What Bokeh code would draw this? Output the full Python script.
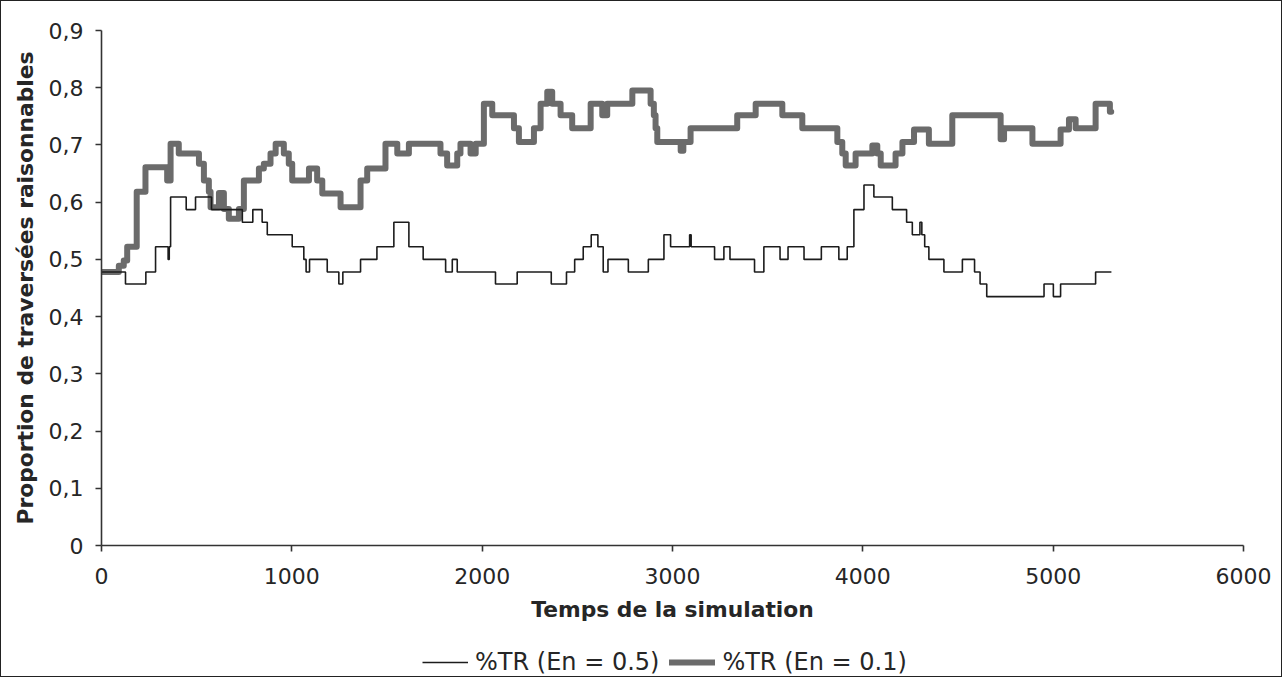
from bokeh.plotting import figure
from bokeh.layouts import column
from bokeh.models import (Range1d, FixedTicker, Legend, LegendItem, ColumnDataSource,
                          CustomJSTickFormatter, BasicTickFormatter)
from bokeh.embed import file_html
from bokeh.resources import INLINE

# %TR (En = 0.5) : step series (time, proportion) — value holds until next time
t_en05 = [0, 126, 233, 284, 350, 356, 363, 445, 494, 578, 740, 795, 844, 871, 1002,
          1063, 1075, 1093, 1186, 1247, 1268, 1361, 1447, 1536, 1615, 1690, 1808, 1843,
          1869, 2070, 2184, 2363, 2443, 2486, 2531, 2573, 2608, 2636, 2661, 2768, 2873,
          2955, 2990, 3090, 3098, 3221, 3270, 3302, 3431, 3480, 3565, 3607, 3691, 3782,
          3874, 3918, 3953, 4006, 4058, 4155, 4230, 4260, 4300, 4310, 4325, 4347, 4426,
          4523, 4587, 4616, 4651, 4952, 5001, 5039, 5223, 5306]
v_en05 = [0.478, 0.457, 0.478, 0.522, 0.500, 0.522, 0.609, 0.587, 0.609, 0.587, 0.565,
          0.587, 0.565, 0.543, 0.522, 0.500, 0.478, 0.500, 0.478, 0.457, 0.478, 0.500,
          0.522, 0.565, 0.522, 0.500, 0.478, 0.500, 0.478, 0.457, 0.478, 0.457, 0.478,
          0.500, 0.522, 0.543, 0.522, 0.478, 0.500, 0.478, 0.500, 0.543, 0.522, 0.543,
          0.522, 0.500, 0.522, 0.500, 0.478, 0.522, 0.500, 0.522, 0.500, 0.522, 0.500,
          0.522, 0.587, 0.630, 0.609, 0.587, 0.565, 0.543, 0.565, 0.543, 0.522, 0.500,
          0.478, 0.500, 0.478, 0.457, 0.435, 0.457, 0.435, 0.457, 0.478, 0.478]

# %TR (En = 0.1)
t_en01 = [0, 91, 117, 135, 185, 231, 345, 363, 406, 512, 538, 564, 573, 617, 643, 669,
          722, 748, 827, 853, 888, 915, 958, 984, 1002, 1090, 1133, 1160, 1256, 1361,
          1396, 1492, 1554, 1615, 1781, 1816, 1869, 1886, 1939, 1966, 2009, 2053, 2167,
          2193, 2272, 2307, 2342, 2368, 2412, 2473, 2570, 2631, 2657, 2789, 2885, 2902,
          2911, 2920, 3043, 3057, 3095, 3340, 3437, 3577, 3682, 3866, 3892, 3910, 3962,
          4050, 4076, 4094, 4172, 4208, 4269, 4347, 4470, 4724, 4742, 4891, 5039, 5083,
          5118, 5223, 5298, 5305]
v_en01 = [0.478, 0.489, 0.498, 0.522, 0.618, 0.661, 0.638, 0.702, 0.685, 0.667, 0.638,
          0.618, 0.591, 0.616, 0.588, 0.571, 0.588, 0.638, 0.659, 0.667, 0.685, 0.702,
          0.685, 0.667, 0.638, 0.659, 0.638, 0.615, 0.591, 0.638, 0.659, 0.702, 0.685,
          0.702, 0.685, 0.664, 0.685, 0.702, 0.685, 0.702, 0.772, 0.752, 0.729, 0.705,
          0.729, 0.772, 0.793, 0.772, 0.752, 0.729, 0.772, 0.752, 0.772, 0.795, 0.772,
          0.752, 0.729, 0.705, 0.690, 0.705, 0.729, 0.752, 0.772, 0.752, 0.729, 0.705,
          0.685, 0.664, 0.685, 0.699, 0.685, 0.664, 0.685, 0.705, 0.727, 0.702, 0.752,
          0.710, 0.729, 0.702, 0.727, 0.745, 0.729, 0.772, 0.758, 0.758]

x_ticks = [0, 1000, 2000, 3000, 4000, 5000, 6000]
y_ticks = [0, 0.1, 0.2, 0.3, 0.4, 0.5, 0.6, 0.7, 0.8, 0.9]
label_en05 = "%TR (En = 0.5)"
label_en01 = "%TR (En = 0.1)"

FONT = "DejaVu Sans"
TXT = "#262626"
THIN = dict(line_color="#1c1c1c", line_width=1.6)
THICK = dict(line_color="#6b6b6b", line_width=6, line_join="round", line_cap="round")

p = figure(frame_width=1142, frame_height=515,
           min_border_left=100, min_border_right=38, min_border_top=29, min_border_bottom=0,
           x_range=Range1d(0, 6000), y_range=Range1d(0, 0.9),
           output_backend="svg", toolbar_location=None)
p.outline_line_color = None
p.xgrid.visible = False
p.ygrid.visible = False
p.background_fill_color = "white"
p.border_fill_color = "white"

s01 = ColumnDataSource(dict(t=t_en01, v=v_en01))
s05 = ColumnDataSource(dict(t=t_en05, v=v_en05))
p.step(x="t", y="v", source=s01, mode="after", **THICK)
p.step(x="t", y="v", source=s05, mode="after", **THIN)

for ax in (p.xaxis[0], p.yaxis[0]):
    ax.axis_line_color = "#333333"
    ax.axis_line_width = 1.6
    ax.major_tick_line_color = "#333333"
    ax.major_tick_line_width = 1.6
    ax.major_tick_out = 6
    ax.major_tick_in = 0
    ax.minor_tick_out = 0
    ax.minor_tick_in = 0
    ax.major_label_text_font = FONT
    ax.major_label_text_font_size = "22px"
    ax.major_label_text_color = TXT
    ax.axis_label_text_font = FONT
    ax.axis_label_text_font_style = "bold"
    ax.axis_label_text_font_size = "21.8px"
    ax.axis_label_text_color = TXT

p.xaxis.ticker = FixedTicker(ticks=x_ticks)
p.xaxis.formatter = BasicTickFormatter(use_scientific=False)
p.xaxis.major_label_standoff = 16
p.xaxis.axis_label = "Temps de la simulation"
p.xaxis.axis_label_standoff = 10

p.yaxis.ticker = FixedTicker(ticks=y_ticks)
p.yaxis.formatter = CustomJSTickFormatter(
    code="return tick == 0 ? '0' : tick.toFixed(1).replace('.', ',');")
p.yaxis.major_label_standoff = 12
p.yaxis.axis_label = "Proportion de traversées raisonnables"
p.yaxis.axis_label_standoff = 8

# legend strip: same series, ranges set so the lines themselves fall outside the strip
lg = figure(width=1280, height=52, min_border=0, x_axis_type=None, y_axis_type=None,
            x_range=Range1d(-20, -10), y_range=Range1d(0, 1),
            output_backend="svg", toolbar_location=None)
lg.outline_line_color = None
lg.background_fill_color = "white"
lg.border_fill_color = "white"
g01 = lg.step(x="t", y="v", source=s01, mode="after", **THICK)
g05 = lg.step(x="t", y="v", source=s05, mode="after", **THIN)

legend = Legend(items=[LegendItem(label=label_en05, renderers=[g05]),
                       LegendItem(label=label_en01, renderers=[g01])],
                orientation="horizontal", location=(321, 0),
                label_text_font=FONT, label_text_font_size="24px", label_text_color=TXT,
                label_height=24, glyph_width=46, glyph_height=24, spacing=10, padding=0,
                margin=0, label_standoff=7,
                border_line_color=None, background_fill_alpha=0)
lg.add_layout(legend, "center")

layout = column(p, lg, spacing=0)
layout.styles = {"border": "1px solid #222"}

open("out.html", "w").write(file_html(layout, INLINE))
